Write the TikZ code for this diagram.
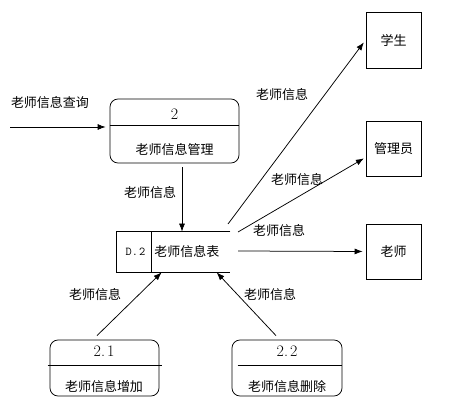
\documentclass[tikz,border=0pt]{standalone}
\usepackage{fontspec}
\newfontfamily\cjk{Noto Sans CJK SC}
\usetikzlibrary{arrows.meta,calc}

\begin{document}
\begin{tikzpicture}[x=1pt,y=-1pt,line width=0.75pt,
    every node/.style={font=\cjk\fontsize{13}{15}\selectfont,inner sep=0pt},
    proc/.style={draw,rounded corners=8pt},
    entity/.style={draw,minimum width=55pt,minimum height=55pt},
    flow/.style={-{Latex[length=8pt,width=6pt]}}]

    % frame
    \fill[white] (0,0) rectangle (453,409);
    \useasboundingbox (0,0) rectangle (453,409);

    % nodes
    \node[proc,minimum width=129pt,minimum height=64pt] (p2) at (174.5,131) {};
    \node[proc,minimum width=109pt,minimum height=56pt] (p21) at (104.5,368) {};
    \node[proc,minimum width=110pt,minimum height=56pt] (p22) at (287,368) {};
    \node[minimum width=113pt,minimum height=40pt] (store) at (173.5,252) {};
    \node[entity,minimum height=56pt] (stu) at (393.5,40) {学生};
    \node[entity] (adm) at (393.5,148.5) {管理员};
    \node[entity] (tea) at (393.5,251.5) {老师};

    % process parts
    \draw (p2.west |- 0,125) -- (p2.east |- 0,125);
    \node (p2num) at (174.5,114) {\rmfamily\fontsize{16}{18}\selectfont 2};
    \node (p2txt) at (174.5,150) {老师信息管理};
    \draw ($(p21.west |- 0,365)+(-2,0)$) -- ($(p21.east |- 0,365)+(3,0)$);
    \node (p21num) at (104,351) {\rmfamily\fontsize{16}{18}\selectfont 2.\kern2pt1};
    \node (p21txt) at (104,387) {老师信息增加};
    \draw ($(p22.west |- 0,365)+(6,0)$) -- (p22.east |- 0,365);
    \node (p22num) at (287,351) {\rmfamily\fontsize{16}{18}\selectfont 2.\kern2pt2};
    \node (p22txt) at (287,387) {老师信息删除};

    % data store
    \draw (store.north east) -- (store.north west) -- (store.south west) -- (store.south east);
    \draw ($(store.north west)+(35,0)$) -- ($(store.south west)+(35,0)$);
    \node (dnum) at (135.5,252) {\ttfamily\fontsize{12}{14}\selectfont D.\kern1pt2};
    \node[anchor=west] (dtxt) at (154,252) {老师信息表};

    % free ends
    \coordinate (qin) at (10,127);
    \coordinate (o1) at (228,224);
    \coordinate (o2) at (238,232);
    \coordinate (o3) at (238,251);

    % paths
    \draw[flow,shorten >=4pt] (qin) -- (qin -| p2.west); % query -> 2
    \draw[flow] ($(p2.south)+(7.5,4)$) -- ($(store.north)+(8.5,0)$); % 2 -> D.2
    \draw[flow,shorten >=3pt] (o1) -- (stu.west); % D.2 -> student
    \draw[flow,shorten >=2pt] (o2) -- ($(adm.south west)+(0,-19)$); % D.2 -> admin
    \draw[flow,shorten >=3pt] (o3) -- (tea.west); % D.2 -> teacher
    \draw[flow] ($(p21.north)+(-7.5,-4)$) -- ($(store.south west)+(45,0)$); % 2.1 -> D.2
    \draw[flow] ($(p22.north)+(-11,-4)$) -- ($(store.south west)+(100,0)$); % 2.2 -> D.2

    % labels
    \node (lq) at (50,103) {老师信息查询};
    \node (l1) at (150,193) {老师信息};
    \node (l2) at (282,95) {老师信息};
    \node (l3) at (297,180) {老师信息};
    \node (l4) at (279,231) {老师信息};
    \node (l5) at (95,295) {老师信息};
    \node (l6) at (270,295) {老师信息};

\end{tikzpicture}
\end{document}
